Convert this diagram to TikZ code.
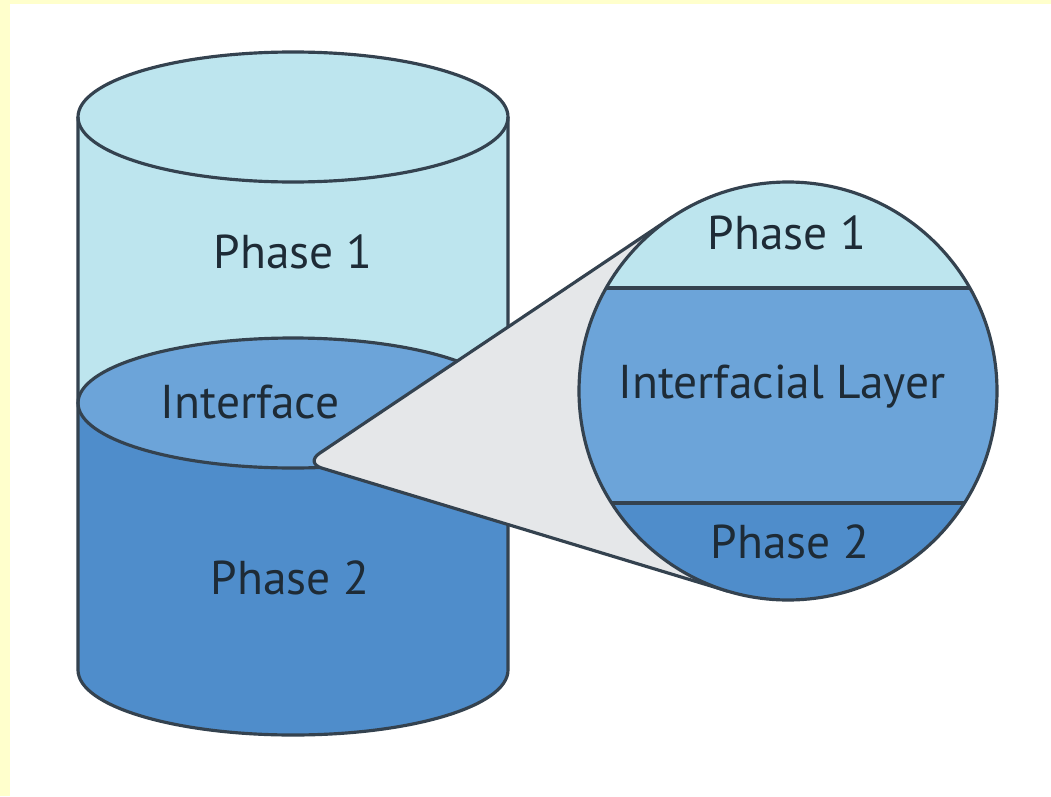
\documentclass[tikz,border=0pt]{standalone}
\usepackage{fontspec}
\setmainfont{PT Sans}
\usepackage{tikz}
\usetikzlibrary{calc}

\definecolor{phaseone}{HTML}{BDE5EE}
\definecolor{interf}{HTML}{6CA4D9}
\definecolor{phasetwo}{HTML}{4F8DCB}
\definecolor{wedgegray}{HTML}{E5E7E9}
\definecolor{edge}{HTML}{34424F}
\definecolor{frame}{HTML}{FFFFCC}
\definecolor{txt}{HTML}{1E2B36}

\begin{document}
\begin{tikzpicture}[line join=round,
    lbl/.style={text=txt, font=\fontsize{13.5}{16}\selectfont},
    outline/.style={draw=edge, line width=0.9pt}]
    % Nền
    \useasboundingbox (0,0) rectangle (10.51,7.96);
    \fill[white] (0,0) rectangle (10.51,7.96);
    \fill[frame] (0,0) rectangle (0.10,7.96);
    \fill[frame] (0,7.92) rectangle (10.51,7.96);

    % Vẽ hình trụ
    \fill[phasetwo] (0.78,3.93) -- (0.78,1.26)
        arc[start angle=180, end angle=360, x radius=2.15, y radius=0.65]
        -- (5.08,3.93) -- cycle;
    \fill[phaseone] (0.78,3.93) rectangle (5.08,6.79);
    \filldraw[outline, fill=phaseone] (2.93,6.79) ellipse[x radius=2.15, y radius=0.65];
    \filldraw[outline, fill=interf] (2.93,3.93) ellipse[x radius=2.15, y radius=0.65];
    \draw[outline] (0.78,6.79) -- (0.78,1.26)
        arc[start angle=180, end angle=360, x radius=2.15, y radius=0.65]
        -- (5.08,6.79);

    % Vẽ phần phóng to
    \coordinate (tip) at (3.05,3.33);
    \node[circle, minimum size=4.18cm, inner sep=0pt, outer sep=0pt] (mag) at (7.88,4.05) {};
    \coordinate (t1) at (tangent cs:node=mag, point={(tip)}, solution=1);
    \coordinate (t2) at (tangent cs:node=mag, point={(tip)}, solution=2);
    \filldraw[outline, fill=wedgegray] (t1) [rounded corners=5pt] -- (tip) [sharp corners] -- (t2) -- cycle;

    \begin{scope}
        \clip (mag.center) circle[radius=2.09];
        \fill[phaseone] (5.7,5.08) rectangle (10.0,6.2);
        \fill[interf] (5.7,2.93) rectangle (10.0,5.08);
        \fill[phasetwo] (5.7,1.9) rectangle (10.0,2.93);
        \draw[edge, line width=1.2pt] (5.7,5.08) -- (10.0,5.08);
        \draw[edge, line width=1.2pt] (5.7,2.93) -- (10.0,2.93);
    \end{scope}
    \draw[outline] (mag.center) circle[radius=2.09];

    % Nhãn
    \node[lbl] (p1) at (2.93,5.44) {Phase 1};
    \node[lbl] (itf) at (2.50,3.94) {Interface};
    \node[lbl] (p2) at (2.90,2.18) {Phase 2};
    \node[lbl] (mp1) at (7.87,5.63) {Phase 1};
    \node[lbl] (mil) at (7.82,4.09) {Interfacial Layer};
    \node[lbl] (mp2) at (7.90,2.54) {Phase 2};
\end{tikzpicture}
\end{document}
